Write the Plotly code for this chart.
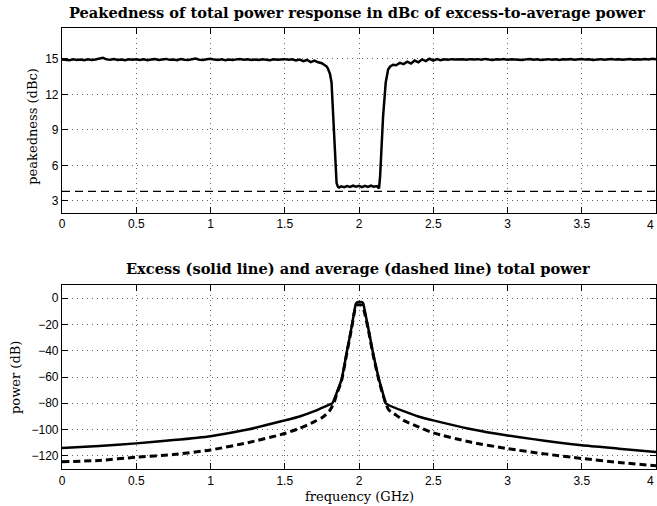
import plotly.graph_objects as go

# ---------------- data ----------------
# Top panel: peakedness (dBc)
pk_left_start, pk_left_step = 0.0, 0.025
pk_left_vals = [
    14.95, 14.92, 14.88, 14.95, 14.90, 14.93, 14.88, 14.96, 14.90, 14.94,
    14.98, 15.08, 14.95, 14.92, 14.97, 14.90, 14.94, 14.88, 14.95, 14.91,
    14.96, 14.90, 14.95, 14.87, 14.93, 14.97, 14.90, 14.95, 14.99, 14.91,
    14.94, 14.88, 14.97, 14.92, 14.90, 14.96, 15.02, 14.92, 14.89, 14.96,
    15.00, 14.93, 14.90, 14.96, 14.88, 14.94, 14.90, 14.95, 14.98, 14.91,
    14.95, 14.89, 14.94, 14.90, 14.96, 14.92, 14.88, 14.95, 14.91, 14.94,
    14.97, 14.92, 14.95, 14.86, 14.93, 14.80, 14.90, 14.72, 14.85, 14.70,
    14.62,
]
pk_fall_freq = [1.765, 1.78, 1.79, 1.805, 1.815, 1.826, 1.837, 1.849, 1.858, 1.866]
pk_fall_vals = [14.50, 14.38, 14.20, 13.70, 13.00, 10.10, 7.30, 4.50, 4.20, 4.12]
pk_floor_start, pk_floor_step = 1.88, 0.02
pk_floor_vals = [4.22, 4.15, 4.25, 4.18, 4.28, 4.20, 4.27, 4.15, 4.26, 4.18, 4.28, 4.20, 4.25]
pk_rise_freq = [2.135, 2.142, 2.151, 2.162, 2.180, 2.196, 2.21, 2.229, 2.25, 2.275]
pk_rise_vals = [4.05, 5.05, 7.30, 10.10, 13.00, 14.10, 14.35, 14.50, 14.45, 14.65]
pk_right_start, pk_right_step = 2.3, 0.025
pk_right_vals = [
    14.55, 14.75, 14.60, 14.85, 14.70, 14.95, 14.80, 15.00, 14.85, 14.98,
    14.88, 14.95, 14.92, 14.97, 14.93, 14.95, 14.96, 14.92, 14.97, 14.94,
    14.97, 14.92, 14.99, 14.94, 14.90, 14.96, 14.93, 14.98, 14.91, 14.95,
    14.93, 14.97, 14.90, 14.95, 14.98, 14.92, 14.96, 14.90, 14.94, 14.97,
    14.92, 14.95, 14.90, 14.96, 14.93, 14.97, 14.91, 14.95, 14.99, 14.93,
    14.95, 14.90, 14.94, 14.97, 14.92, 14.95, 14.98, 14.93, 14.96, 14.91,
    14.95, 14.99, 14.93, 14.97, 14.94, 14.98, 14.95, 15.00, 14.97,
]
ref_level_freq = [0.0, 4.0]
ref_level_vals = [3.8, 3.8]

# Bottom panel: power (dB)
excess_freq = [0, 0.25, 0.5, 0.75, 1.0, 1.25, 1.5, 1.6, 1.7, 1.75, 1.8, 1.82, 1.85, 1.882,
               1.916, 1.95, 1.97, 1.98, 1.99, 2.0, 2.02, 2.028, 2.038, 2.061, 2.095, 2.135,
               2.16, 2.18, 2.2, 2.3, 2.4, 2.5, 2.75, 3.0, 3.25, 3.5, 3.75, 4.0]
excess_vals = [-114, -112.5, -110.5, -108, -105, -100, -93, -90, -86, -83.5, -81, -80, -72, -62,
               -42, -22, -9, -4, -3, -3, -3, -4, -9, -22, -42, -62,
               -72, -80, -81.5, -86, -90, -93, -99.5, -104.5, -108.5, -112, -114.5, -117]
average_freq = [0, 0.25, 0.5, 0.75, 1.0, 1.25, 1.5, 1.6, 1.7, 1.75, 1.8, 1.83, 1.85, 1.882,
                1.916, 1.95, 1.97, 1.98, 2.0, 2.02, 2.035, 2.061, 2.095, 2.135,
                2.16, 2.18, 2.2, 2.25, 2.3, 2.4, 2.5, 2.75, 3.0, 3.25, 3.5, 3.75, 4.0]
average_vals = [-124.5, -123.5, -121, -119, -115.5, -110, -103, -99, -94, -91, -86, -80, -73, -63,
                -43, -23, -10, -5.5, -5, -5.5, -10, -23, -43, -63,
                -73, -80, -85, -89, -93, -98, -102.5, -109.5, -114.5, -118.5, -122, -125, -127.5]

x_ticks = [0, 0.5, 1, 1.5, 2, 2.5, 3, 3.5, 4]
x_tick_text = ["0", "0.5", "1", "1.5", "2", "2.5", "3", "3.5", "4"]
top_y_ticks = [3, 6, 9, 12, 15]
bot_y_ticks = [0, -20, -40, -60, -80, -100, -120]
bot_y_text = ["0", "\u221220", "\u221240", "\u221260", "\u221280", "\u2212100", "\u2212120"]

title_top = "Peakedness of total power response in dBc of excess-to-average power"
title_bot = "Excess (solid line) and average (dashed line) total power"
ylabel_top = "peakedness (dBc)"
ylabel_bot = "power (dB)"
xlabel_bot = "frequency (GHz)"

# -------------- assemble top curve --------------
pk_freq = ([round(pk_left_start + i * pk_left_step, 4) for i in range(len(pk_left_vals))]
           + pk_fall_freq
           + [round(pk_floor_start + i * pk_floor_step, 4) for i in range(len(pk_floor_vals))]
           + pk_rise_freq
           + [round(pk_right_start + i * pk_right_step, 4) for i in range(len(pk_right_vals))])
pk_vals = pk_left_vals + pk_fall_vals + pk_floor_vals + pk_rise_vals + pk_right_vals

fig = go.Figure()
fig.add_trace(go.Scatter(x=pk_freq, y=pk_vals, mode="lines",
                         line=dict(color="black", width=2.5), xaxis="x", yaxis="y",
                         showlegend=False))
fig.add_trace(go.Scatter(x=ref_level_freq, y=ref_level_vals, mode="lines",
                         line=dict(color="black", width=1.2, dash="8px,5px"),
                         xaxis="x", yaxis="y", showlegend=False))
fig.add_trace(go.Scatter(x=excess_freq, y=excess_vals, mode="lines", line_shape="spline",
                         line=dict(color="black", width=2.5, smoothing=0.6),
                         xaxis="x2", yaxis="y2", showlegend=False))
fig.add_trace(go.Scatter(x=average_freq, y=average_vals, mode="lines", line_shape="spline",
                         line=dict(color="black", width=3, dash="7px,4px", smoothing=0.6),
                         xaxis="x2", yaxis="y2", showlegend=False))

tickfont = dict(family="Liberation Sans, Arial, sans-serif", size=12, color="black")
axis_common = dict(showline=True, linecolor="black", linewidth=1.2, mirror="ticks",
                   ticks="inside", ticklen=6, tickwidth=1, tickcolor="black",
                   showgrid=True, gridcolor="#666666", gridwidth=1, griddash="1px,4px",
                   zeroline=False, tickfont=tickfont, automargin=False,
                   ticklabeloverflow="allow")

# the last x tick label sits at the right edge: drawn as a right-anchored label instead
x_axis_text = x_tick_text[:-1] + [""]

fig.update_layout(
    width=657, height=506,
    margin=dict(l=62, r=1, t=28, b=37),
    paper_bgcolor="white", plot_bgcolor="white",
    xaxis=dict(domain=[0, 1], range=[0, 4], tickvals=x_ticks, ticktext=x_axis_text,
               anchor="y", **axis_common),
    yaxis=dict(domain=[0.5812, 1], range=[2.0, 17.6], tickvals=top_y_ticks,
               anchor="x", **axis_common),
    xaxis2=dict(domain=[0, 1], range=[0, 4], tickvals=x_ticks, ticktext=x_axis_text,
                anchor="y2", **axis_common),
    yaxis2=dict(domain=[0, 0.4172], range=[-130, 10], tickvals=bot_y_ticks,
                ticktext=bot_y_text, anchor="x2", **axis_common),
)

for xr, yr in (("x", "y domain"), ("x2", "y2 domain")):
    fig.add_annotation(text=x_tick_text[-1], x=x_ticks[-1], xref=xr, y=0, yref=yr,
                       xanchor="right", yanchor="top", yshift=-3, showarrow=False,
                       font=tickfont)

serif_bold = dict(family="DejaVu Serif, serif", size=14.6, color="black")
serif = dict(family="DejaVu Serif, serif", size=13, color="black")

annots = [
    dict(text="<b>" + title_top + "</b>", x=356.5, y=13, font=serif_bold),
    dict(text="<b>" + title_bot + "</b>", x=357.5, y=268, font=serif_bold),
    dict(text=ylabel_top, x=33, y=126.7, font=serif, textangle=-90),
    dict(text=ylabel_bot, x=15, y=378, font=serif, textangle=-90),
    dict(text=xlabel_bot, x=359, y=496, font=serif),
]
for a in annots:
    fig.add_annotation(text=a["text"], xref="paper", yref="paper",
                       x=(a["x"] - 62) / (657 - 62 - 1), y=(506 - 37 - a["y"]) / (506 - 28 - 37),
                       xanchor="center", yanchor="middle", showarrow=False,
                       font=a["font"], textangle=a.get("textangle", 0))

fig.write_html("out.html", config={"displayModeBar": False},
               post_script="document.body.style.margin='0';document.body.style.padding='0';"
                           "document.body.style.overflow='hidden';")
